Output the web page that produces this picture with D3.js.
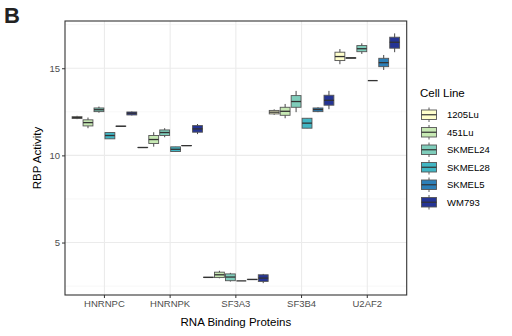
<!DOCTYPE html>
<html>
<head>
<meta charset="utf-8">
<script src="https://cdn.jsdelivr.net/npm/d3@7"></script>
<style>
  body { margin: 0; background: #fff; }
  text { font-family: "Liberation Sans", Arial, sans-serif; }
</style>
</head>
<body>
<div id="chart"></div>
<script>
// Proteins on the x axis and cell lines (fill)
const proteins = ["HNRNPC", "HNRNPK", "SF3A3", "SF3B4", "U2AF2"];
const cellLines = ["1205Lu", "451Lu", "SKMEL24", "SKMEL28", "SKMEL5", "WM793"];
const colors = ["#ffffcc", "#c7e9b4", "#7fcdbb", "#41b6c4", "#2c7fb8", "#253494"];
const yTicks = [5, 10, 15];

// box stats per cell line, one entry per protein: [min, q1, median, q3, max]
const stats1205Lu = [[12.08, 12.12, 12.17, 12.22, 12.27], [10.45, 10.45, 10.45, 10.46, 10.46], [3.0, 3.0, 3.0, 3.01, 3.01], [12.33, 12.38, 12.48, 12.58, 12.64], [15.23, 15.44, 15.67, 15.92, 16.1]];
const stats451Lu = [[11.56, 11.69, 11.88, 12.04, 12.17], [10.5, 10.68, 10.91, 11.14, 11.33], [2.95, 2.99, 3.15, 3.3, 3.38], [12.13, 12.3, 12.53, 12.76, 12.95], [15.57, 15.57, 15.59, 15.61, 15.61]];
const statsSKMEL24 = [[12.45, 12.51, 12.62, 12.72, 12.8], [11.04, 11.14, 11.31, 11.46, 11.56], [2.76, 2.81, 3.02, 3.2, 3.26], [12.48, 12.76, 13.09, 13.43, 13.7], [15.82, 15.95, 16.12, 16.3, 16.43]];
const statsSKMEL28 = [[10.95, 10.95, 11.14, 11.31, 11.31], [10.22, 10.22, 10.35, 10.49, 10.49], [2.8, 2.8, 2.8, 2.8, 2.8], [11.56, 11.56, 11.85, 12.13, 12.13], [14.29, 14.29, 14.29, 14.29, 14.29]];
const statsSKMEL5 = [[11.67, 11.67, 11.67, 11.68, 11.68], [10.56, 10.56, 10.56, 10.57, 10.57], [2.88, 2.88, 2.88, 2.89, 2.89], [12.48, 12.51, 12.63, 12.72, 12.76], [14.9, 15.09, 15.32, 15.57, 15.76]];
const statsWM793 = [[12.29, 12.32, 12.42, 12.49, 12.52], [11.22, 11.33, 11.52, 11.71, 11.8], [2.67, 2.77, 2.96, 3.15, 3.2], [12.65, 12.88, 13.16, 13.45, 13.7], [15.92, 16.15, 16.49, 16.78, 17.0]];
const allStats = [stats1205Lu, stats451Lu, statsSKMEL24, statsSKMEL28, statsSKMEL5, statsWM793];

const W = 512, H = 336;
const panel = { left: 65, right: 406.7, top: 21, bottom: 295 };

const svg = d3.select("#chart").append("svg")
    .attr("width", W).attr("height", H);

const x = d3.scaleBand().domain(proteins)
    .range([panel.left, panel.right]).paddingInner(0).paddingOuter(0.1);
const xSub = d3.scaleBand().domain(cellLines)
    .range([0, x.bandwidth()]).paddingInner(0.1).paddingOuter(0.05);
const y = d3.scaleLinear().domain([1.99, 17.71]).range([panel.bottom, panel.top]);
const color = d3.scaleOrdinal().domain(cellLines).range(colors);

// flatten the stats
const boxes = [];
cellLines.forEach((cl, i) => {
    proteins.forEach((p, j) => {
        const s = allStats[i][j];
        boxes.push({ cell: cl, protein: p, min: s[0], q1: s[1], med: s[2], q3: s[3], max: s[4] });
    });
});

// grid lines
const grid = svg.append("g");
grid.selectAll(".minor")
    .data([2.5, 7.5, 12.5, 17.5])
    .join("line")
    .attr("x1", panel.left).attr("x2", panel.right)
    .attr("y1", d => y(d)).attr("y2", d => y(d))
    .attr("stroke", "#f2f2f2").attr("stroke-width", 0.6);
grid.selectAll(".major")
    .data(yTicks)
    .join("line")
    .attr("x1", panel.left).attr("x2", panel.right)
    .attr("y1", d => y(d)).attr("y2", d => y(d))
    .attr("stroke", "#ebebeb").attr("stroke-width", 1.1);
grid.selectAll(".vmajor")
    .data(proteins)
    .join("line")
    .attr("x1", d => x(d) + x.bandwidth() / 2).attr("x2", d => x(d) + x.bandwidth() / 2)
    .attr("y1", panel.top).attr("y2", panel.bottom)
    .attr("stroke", "#ebebeb").attr("stroke-width", 1.1);

// boxplots
const bw = xSub.bandwidth();
const g = svg.append("g")
    .selectAll("g")
    .data(boxes)
    .join("g")
    .attr("transform", d => `translate(${x(d.protein) + xSub(d.cell)},0)`);

g.append("line")
    .attr("x1", bw / 2).attr("x2", bw / 2)
    .attr("y1", d => y(d.max)).attr("y2", d => y(d.min))
    .attr("stroke", "#333").attr("stroke-width", 0.9);
g.append("rect")
    .attr("x", 0).attr("width", bw)
    .attr("y", d => y(d.q3))
    .attr("height", d => Math.max(0, y(d.q1) - y(d.q3)))
    .attr("fill", d => color(d.cell))
    .attr("stroke", "#555").attr("stroke-width", 0.9);
g.append("line")
    .attr("x1", 0).attr("x2", bw)
    .attr("y1", d => y(d.med)).attr("y2", d => y(d.med))
    .attr("stroke", "#333").attr("stroke-width", 1.3);

// panel border
svg.append("rect")
    .attr("x", panel.left).attr("y", panel.top)
    .attr("width", panel.right - panel.left).attr("height", panel.bottom - panel.top)
    .attr("fill", "none").attr("stroke", "#333").attr("stroke-width", 1.1);

// axes
const xAxis = svg.append("g")
    .attr("transform", `translate(0,${panel.bottom})`)
    .call(d3.axisBottom(x).tickSize(3).tickPadding(2));
const yAxis = svg.append("g")
    .attr("transform", `translate(${panel.left},0)`)
    .call(d3.axisLeft(y).tickValues(yTicks).tickSize(3).tickPadding(2));
[xAxis, yAxis].forEach(a => {
    a.select(".domain").remove();
    a.selectAll(".tick line").attr("stroke", "#333");
    a.selectAll(".tick text").attr("fill", "#4d4d4d")
        .style("font-size", "9.5px").style("font-family", "Liberation Sans, Arial, sans-serif");
});

// axis titles
svg.append("text")
    .attr("x", (panel.left + panel.right) / 2).attr("y", 326)
    .attr("text-anchor", "middle")
    .style("font-size", "11.5px")
    .text("RNA Binding Proteins");
svg.append("text")
    .attr("transform", `translate(41,${(panel.top + panel.bottom) / 2}) rotate(-90)`)
    .attr("text-anchor", "middle")
    .style("font-size", "11.5px")
    .text("RBP Activity");

// panel tag
svg.append("text")
    .attr("x", 4).attr("y", 23)
    .style("font-size", "22px").style("font-weight", "bold")
    .attr("fill", "#222")
    .text("B");

// legend
const legend = svg.append("g").attr("transform", "translate(420,0)");
legend.append("text")
    .attr("x", 0).attr("y", 97)
    .style("font-size", "11.5px")
    .text("Cell Line");

const keyH = 17.5;
const items = legend.selectAll(".item")
    .data(cellLines)
    .join("g")
    .attr("transform", (d, i) => `translate(0,${106 + i * keyH})`);
items.append("line")
    .attr("x1", 9).attr("x2", 9)
    .attr("y1", 1.5).attr("y2", keyH - 1.5)
    .attr("stroke", "#333").attr("stroke-width", 0.8);
items.append("rect")
    .attr("x", 1.5).attr("y", 4).attr("width", 15).attr("height", keyH - 8)
    .attr("fill", d => color(d))
    .attr("stroke", "#555").attr("stroke-width", 0.9);
items.append("line")
    .attr("x1", 1.5).attr("x2", 16.5)
    .attr("y1", keyH / 2).attr("y2", keyH / 2)
    .attr("stroke", "#333").attr("stroke-width", 1.2);
items.append("text")
    .attr("x", 27).attr("y", keyH / 2)
    .attr("dy", "0.35em")
    .style("font-size", "9.5px")
    .text(d => d);
</script>
</body>
</html>
